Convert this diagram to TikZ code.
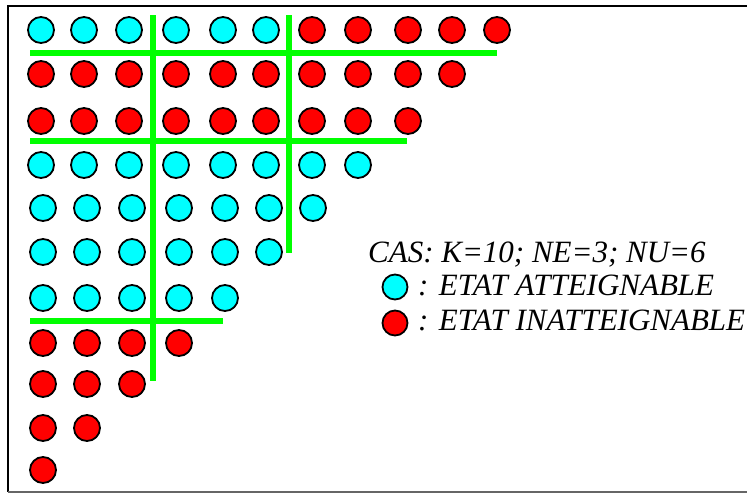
\documentclass[tikz,border=0pt]{standalone}
\usepackage{fontspec}
\setmainfont{Liberation Serif}
\definecolor{aqua}{RGB}{0,255,255}
\definecolor{pred}{RGB}{255,0,0}
\definecolor{pgreen}{RGB}{0,255,0}
\begin{document}
\begin{tikzpicture}[x=1pt,y=-1pt,
  st/.style={circle, draw=black, line width=1.8pt, minimum size=26pt, inner sep=0pt},
  cy/.style={st, fill=aqua},
  rd/.style={st, fill=pred},
  gl/.style={draw=pgreen, line width=6pt},
  frame/.style={draw=black, line width=2pt},
  lbl/.style={anchor=base west, inner sep=0pt, font=\fontsize{31}{36}\selectfont\itshape}]
\useasboundingbox (0,0) rectangle (747,493);
% frame
\draw[frame] (747,5.5) -- (7.5,5.5) -- (7.5,492);
\draw[draw=black!60, line width=1.5pt] (7.5,491.8) -- (747,491.8);
% green separators
\draw[gl] (153,15) -- (153,381);
\draw[gl] (289,15) -- (289,253);
\draw[gl] (30,53) -- (497,53);
\draw[gl] (30,141) -- (407,141);
\draw[gl] (30,321) -- (223,321);
% row 1
\foreach \x [count=\i] in {41,84,129,176,223,266} \node[cy] (a\i) at (\x,30) {};
\foreach \x [count=\i from 7] in {312,358,408,452,497} \node[rd] (a\i) at (\x,30) {};
% row 2
\foreach \x [count=\i] in {41,84,129,176,223,266,312,358,408,452} \node[rd] (b\i) at (\x,74) {};
% row 3
\foreach \x [count=\i] in {41,84,129,176,223,266,312,358,408} \node[rd] (c\i) at (\x,121) {};
% row 4
\foreach \x [count=\i] in {41,84,129,176,223,266,312,358} \node[cy] (d\i) at (\x,165) {};
% row 5
\foreach \x [count=\i] in {43,87,132,179,225,269,313} \node[cy] (e\i) at (\x,208) {};
% row 6
\foreach \x [count=\i] in {43,87,132,179,225,269} \node[cy] (f\i) at (\x,252) {};
% row 7
\foreach \x [count=\i] in {43,87,132,179,225} \node[cy] (g\i) at (\x,298) {};
% row 8
\foreach \x [count=\i] in {43,87,132,179} \node[rd] (h\i) at (\x,343) {};
% row 9
\foreach \x [count=\i] in {43,87,132} \node[rd] (k\i) at (\x,384) {};
% row 10
\foreach \x [count=\i] in {43,87} \node[rd] (m\i) at (\x,428) {};
% row 11
\node[rd] (n1) at (43,470) {};
% legend
\node[lbl] (t1) at (368,262) {CAS: K=10; NE=3; NU=6};
\node[cy, minimum size=25pt] (lc) at (395,287) {};
\node[lbl] (t2) at (418,295) {: ETAT ATTEIGNABLE};
\node[rd, minimum size=25pt] (lr) at (395,323) {};
\node[lbl] (t3) at (418,330) {: ETAT INATTEIGNABLE};
\end{tikzpicture}
\end{document}
